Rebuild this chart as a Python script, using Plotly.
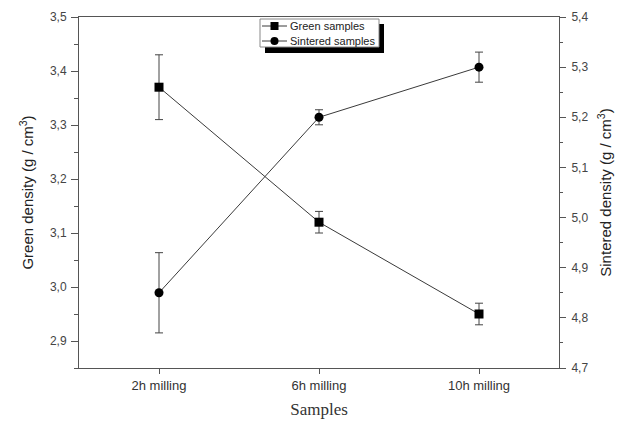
import plotly.graph_objects as go

categories = ["2h milling", "6h milling", "10h milling"]
green_density = [3.37, 3.12, 2.95]
green_err = [0.06, 0.02, 0.02]
sintered_density = [4.85, 5.20, 5.30]
sintered_err = [0.08, 0.015, 0.03]
series_names = ["Green samples", "Sintered samples"]

line_col = "#3a3a3a"
axis_col = "#555555"

# page body has an 8px margin; size the figure so the screenshot lines up
OFF = 8
W, H = 627 - OFF, 421 - OFF
ML, MR, MT, MB = 79 - OFF, 68, 17 - OFF, 53
PW, PH = W - ML - MR, H - MT - MB


def px_x(x):
    return (x - OFF - ML) / PW


def px_y(y):
    return (H - MB - (y - OFF)) / PH


fig = go.Figure()
fig.add_trace(go.Scatter(
    x=categories, y=green_density, name=series_names[0], yaxis="y",
    mode="lines+markers",
    line=dict(color=line_col, width=1),
    marker=dict(symbol="square", size=9, color="black"),
    error_y=dict(type="data", array=green_err, color="#444444", thickness=1, width=4),
))
fig.add_trace(go.Scatter(
    x=categories, y=sintered_density, name=series_names[1], yaxis="y2",
    mode="lines+markers",
    line=dict(color=line_col, width=1),
    marker=dict(symbol="circle", size=9, color="black"),
    error_y=dict(type="data", array=sintered_err, color="#444444", thickness=1, width=4),
))

sans = "Liberation Sans, Arial, sans-serif"
ytickfont = dict(family=sans, size=12, color="#444444")
xtickfont = dict(family=sans, size=13, color="#333333")
titlefont = dict(family=sans, size=15, color="#222222")

fig.update_layout(
    width=W, height=H,
    margin=dict(l=ML, r=MR, t=MT, b=MB),
    paper_bgcolor="white", plot_bgcolor="white",
    separators=",.",
    showlegend=False,
    xaxis=dict(
        range=[-0.5, 2.5], showgrid=False, zeroline=False, automargin=False,
        showline=True, linecolor=axis_col, linewidth=1, mirror=True,
        ticks="outside", ticklen=5, tickcolor=axis_col,
        tickfont=xtickfont,
        title=dict(text="Samples", font=dict(family="Liberation Serif, Times New Roman, serif", size=17, color="#333333"), standoff=11),
    ),
    yaxis=dict(
        range=[2.85, 3.5], dtick=0.1, tick0=2.9, tickformat=".1f",
        showgrid=False, zeroline=False, automargin=False,
        showline=True, linecolor=axis_col, linewidth=1, mirror=True,
        ticks="outside", ticklen=7, tickcolor=axis_col, ticklabelstandoff=2,
        minor=dict(ticks="outside", ticklen=4, dtick=0.05, tick0=2.85, tickcolor=axis_col, showgrid=False),
        tickfont=ytickfont,
        title=dict(text="Green density (g / cm<sup>3</sup>)", font=titlefont, standoff=12),
    ),
    yaxis2=dict(
        range=[4.7, 5.4], dtick=0.1, tick0=4.7, tickformat=".1f",
        overlaying="y", side="right", automargin=False,
        showgrid=False, zeroline=False,
        showline=True, linecolor=axis_col, linewidth=1,
        ticks="outside", ticklen=6, tickcolor=axis_col, ticklabelstandoff=3,
        minor=dict(ticks="outside", ticklen=3, dtick=0.05, tick0=4.75, tickcolor=axis_col, showgrid=False),
        tickfont=ytickfont,
        title=dict(text="Sintered density (g / cm<sup>3</sup>)", font=titlefont, standoff=13),
    ),
)

# custom compact legend with drop shadow (screen pixel positions)
bx0, bx1, by0, by1 = 260, 379, 19, 47
sh = 5
fig.add_shape(type="rect", xref="paper", yref="paper",
              x0=px_x(bx0 + sh), x1=px_x(bx1 + sh), y0=px_y(by1 + sh + 1), y1=px_y(by0 + sh),
              fillcolor="black", line=dict(width=0), layer="above")
fig.add_shape(type="rect", xref="paper", yref="paper",
              x0=px_x(bx0), x1=px_x(bx1), y0=px_y(by1), y1=px_y(by0),
              fillcolor="white", line=dict(width=1, color="#888888"), layer="above")
rows = [26, 41]
symbols = ["rect", "circle"]
for name, ry, sym in zip(series_names, rows, symbols):
    fig.add_shape(type="line", xref="paper", yref="paper",
                  x0=px_x(262), x1=px_x(287), y0=px_y(ry), y1=px_y(ry),
                  line=dict(color=line_col, width=1), layer="above")
    fig.add_shape(type=sym, xref="paper", yref="paper",
                  x0=px_x(270.5), x1=px_x(278.5), y0=px_y(ry + 4), y1=px_y(ry - 4),
                  fillcolor="black", line=dict(width=0), layer="above")
    fig.add_annotation(x=px_x(288), y=px_y(ry), xref="paper", yref="paper",
                       text=name, showarrow=False, xanchor="left", yanchor="middle",
                       font=dict(family=sans, size=11, color="#222222"))

fig.write_html("out.html")
